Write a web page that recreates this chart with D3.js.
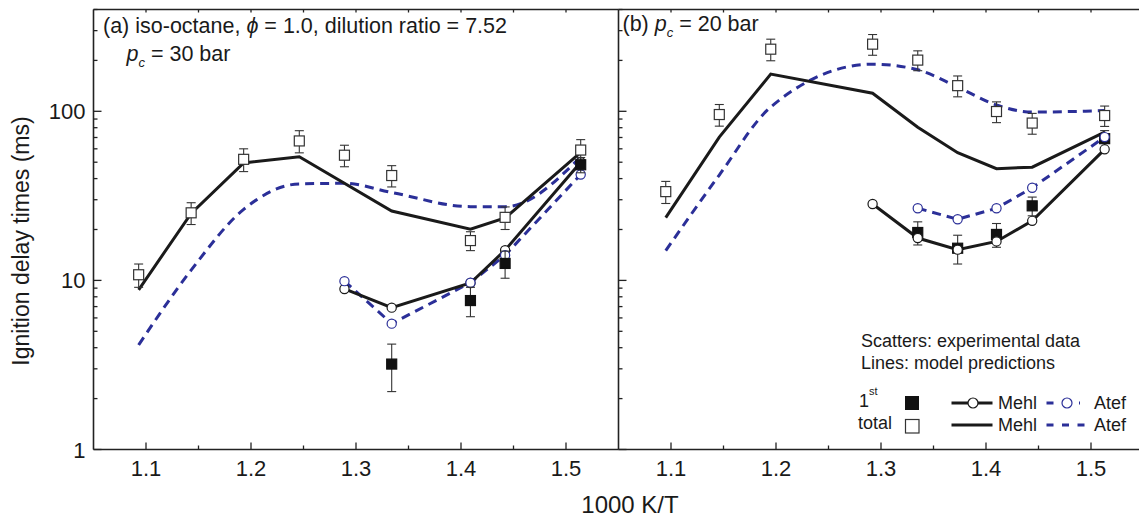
<!DOCTYPE html>
<html>
<head>
<meta charset="utf-8">
<script src="https://cdn.jsdelivr.net/npm/d3@7"></script>
<style>
    body { margin: 0; background: #fff; }
    svg { display: block; }
    text { font-family: Arial, "Liberation Sans", sans-serif; fill: #1a1a1a; }
</style>
</head>
<body>
<svg id="chart" width="1139" height="520"></svg>
<script>
// ---- data (1000 K/T, ignition delay in ms) ----
// panel (a), pc = 30 bar
const aTotalT    = [1.093, 1.143, 1.193, 1.246, 1.289, 1.334, 1.409, 1.442, 1.514];
const aTotalExp  = [10.8, 25.1, 52.0, 66.8, 55.0, 41.7, 17.2, 23.6, 59.0];
const aTotalErr  = [1.7, 3.7, 8, 10, 8, 6, 2.2, 3.6, 9];
const a1stT      = [1.334, 1.409, 1.442, 1.514];
const a1stExp    = [3.2, 7.6, 12.6, 48.3];
const a1stErr    = [1.0, 1.5, 2.3, 5];
const aMehlTotT  = [1.093, 1.143, 1.193, 1.246, 1.334, 1.409, 1.442, 1.514];
const aMehlTot   = [8.8, 24.9, 49.5, 53.8, 25.7, 20.1, 23.4, 57.1];
const aAtefTotT  = [1.093, 1.143, 1.193, 1.246, 1.289, 1.334, 1.409, 1.442, 1.514];
const aAtefTot   = [4.15, 11.5, 26.3, 37.2, 37.5, 33.1, 27.3, 27.3, 53.8];
const a1stModT   = [1.289, 1.334, 1.409, 1.442, 1.514];
const aMehl1st   = [8.9, 6.9, 9.65, 15.1, 50.0];
const aAtef1st   = [9.9, 5.55, 9.7, 14.1, 42.3];

// panel (b), pc = 20 bar
const bTotalT    = [1.095, 1.146, 1.195, 1.292, 1.335, 1.373, 1.410, 1.444, 1.513];
const bTotalExp  = [33.5, 95.7, 233, 249.5, 200.8, 141.8, 99.7, 85.2, 94.4];
const bTotalErr  = [5, 14, 34, 35, 27, 20, 14, 12, 13];
const b1stT      = [1.335, 1.373, 1.410, 1.444, 1.513];
const b1stExp    = [19.2, 15.5, 18.7, 27.6, 68.9];
const b1stErr    = [3, 3, 3, 3.5, 8];
const bMehlTotT  = [1.095, 1.146, 1.195, 1.292, 1.335, 1.373, 1.410, 1.444, 1.513];
const bMehlTot   = [23.5, 70.4, 166, 127.9, 80.6, 56.9, 45.8, 46.7, 75.3];
const bAtefTotT  = [1.095, 1.146, 1.195, 1.292, 1.335, 1.373, 1.410, 1.444, 1.513];
const bAtefTot   = [15.0, 42, 106, 190, 176, 139, 109, 99, 101];
const bMehl1stT  = [1.292, 1.335, 1.373, 1.410, 1.444, 1.513];
const bMehl1st   = [28.3, 17.8, 15.2, 17.0, 22.5, 59.6];
const bAtef1stT  = [1.335, 1.373, 1.410, 1.444, 1.513];
const bAtef1st   = [26.7, 23.0, 26.7, 35.3, 70.4];

const xTicks = [1.1, 1.2, 1.3, 1.4, 1.5];
const xMinorTicks = [1.15, 1.25, 1.35, 1.45];
const yTicks = [1, 10, 100];

// ---- layout ----
const blue = "#2b2f98";
const ink = "#1a1a1a";
const plotTop = 9.5, plotBottom = 449.5, panelW = 525;
const panelLeft = [93.5, 618.5];

const svg = d3.select("#chart");

const yScale = d3.scaleLog().domain([1, 400]).range([plotBottom, plotTop]);
const yMinor = [];
[1, 10, 100].forEach(dec => d3.range(2, 10).forEach(m => { if (m * dec <= 400) yMinor.push(m * dec); }));

const zip = (xs, ys, es) => xs.map((t, i) => ({ t, v: ys[i], e: es ? es[i] : 0 }));

const panels = [
    {
        left: panelLeft[0],
        total: zip(aTotalT, aTotalExp, aTotalErr),
        first: zip(a1stT, a1stExp, a1stErr),
        mehlTot: zip(aMehlTotT, aMehlTot),
        atefTot: zip(aAtefTotT, aAtefTot),
        mehl1st: zip(a1stModT, aMehl1st),
        atef1st: zip(a1stModT, aAtef1st),
        circlesOnTop: false,
        yLabels: true
    },
    {
        left: panelLeft[1],
        total: zip(bTotalT, bTotalExp, bTotalErr),
        first: zip(b1stT, b1stExp, b1stErr),
        mehlTot: zip(bMehlTotT, bMehlTot),
        atefTot: zip(bAtefTotT, bAtefTot),
        mehl1st: zip(bMehl1stT, bMehl1st),
        atef1st: zip(bAtef1stT, bAtef1st),
        circlesOnTop: true,
        yLabels: false
    }
];

const drawPanel = (p) => {
    const xScale = d3.scaleLinear().domain([1.05, 1.55]).range([p.left, p.left + panelW]);
    const g = svg.append("g");

    // frame
    const frame = g.append("g").attr("stroke", "#222").attr("stroke-width", 1.6);
    frame.append("line").attr("x1", p.left).attr("x2", p.left + panelW).attr("y1", plotTop).attr("y2", plotTop);
    frame.append("line").attr("x1", p.left).attr("x2", p.left + panelW).attr("y1", plotBottom).attr("y2", plotBottom);
    frame.append("line").attr("x1", p.left).attr("x2", p.left).attr("y1", plotTop).attr("y2", plotBottom);

    // x ticks, inward, bottom + top
    const ticks = g.append("g").attr("stroke", "#222").attr("stroke-width", 1.3);
    ticks.selectAll(".xmaj").data(xTicks).join("line").attr("class", "xmaj")
        .attr("x1", d => xScale(d)).attr("x2", d => xScale(d))
        .attr("y1", plotBottom).attr("y2", plotBottom - 7);
    ticks.selectAll(".xmin").data(xMinorTicks).join("line").attr("class", "xmin")
        .attr("x1", d => xScale(d)).attr("x2", d => xScale(d))
        .attr("y1", plotBottom).attr("y2", plotBottom - 4);
    ticks.selectAll(".xtop").data(xTicks.concat(xMinorTicks)).join("line").attr("class", "xtop")
        .attr("x1", d => xScale(d)).attr("x2", d => xScale(d))
        .attr("y1", plotTop).attr("y2", plotTop + 3);

    // y ticks, inward on the left edge of each panel
    ticks.selectAll(".ymaj").data(yTicks).join("line").attr("class", "ymaj")
        .attr("x1", p.left).attr("x2", p.left + 8)
        .attr("y1", d => yScale(d)).attr("y2", d => yScale(d));
    ticks.selectAll(".ymin").data(yMinor).join("line").attr("class", "ymin")
        .attr("x1", p.left).attr("x2", p.left + 4)
        .attr("y1", d => yScale(d)).attr("y2", d => yScale(d));

    g.selectAll(".xlab").data(xTicks).join("text").attr("class", "xlab")
        .attr("x", d => xScale(d)).attr("y", 476)
        .attr("text-anchor", "middle")
        .style("font-size", "22px")
        .text(d => d.toFixed(1));

    if (p.yLabels) {
        g.selectAll(".ylab").data(yTicks).join("text").attr("class", "ylab")
            .attr("x", p.left - 8).attr("y", d => yScale(d) + 8)
            .attr("text-anchor", "end")
            .style("font-size", "22px")
            .text(d => d);
    }

    // model lines
    const line = (curve) => d3.line().x(d => xScale(d.t)).y(d => yScale(d.v)).curve(curve);
    const lines = g.append("g").attr("fill", "none").attr("stroke-width", 3);
    lines.append("path").datum(p.atefTot)
        .attr("d", line(d3.curveMonotoneX))
        .attr("stroke", blue).attr("stroke-dasharray", "9,6");
    lines.append("path").datum(p.atef1st)
        .attr("d", line(d3.curveLinear))
        .attr("stroke", blue).attr("stroke-dasharray", "9,6");
    lines.append("path").datum(p.mehlTot)
        .attr("d", line(d3.curveLinear))
        .attr("stroke", ink);
    lines.append("path").datum(p.mehl1st)
        .attr("d", line(d3.curveLinear))
        .attr("stroke", ink);

    const drawCircles = () => {
        const c = g.append("g").attr("fill", "#fff").attr("stroke-width", 1.2);
        c.selectAll(".cm").data(p.mehl1st).join("circle").attr("class", "cm")
            .attr("cx", d => xScale(d.t)).attr("cy", d => yScale(d.v)).attr("r", 4.6)
            .attr("stroke", ink);
        c.selectAll(".ca").data(p.atef1st).join("circle").attr("class", "ca")
            .attr("cx", d => xScale(d.t)).attr("cy", d => yScale(d.v)).attr("r", 4.6)
            .attr("stroke", blue);
    };

    const drawExp = () => {
        const e = g.append("g");
        const all = p.total.map(d => ({ ...d, filled: false }))
            .concat(p.first.map(d => ({ ...d, filled: true })));
        const bars = e.append("g").attr("stroke", "#333").attr("stroke-width", 1.1);
        all.forEach(d => {
            const cx = xScale(d.t);
            const y1 = yScale(d.v + d.e), y2 = yScale(Math.max(d.v - d.e, 1.01));
            bars.append("line").attr("x1", cx).attr("x2", cx).attr("y1", y1).attr("y2", y2);
            bars.append("line").attr("x1", cx - 4.5).attr("x2", cx + 4.5).attr("y1", y1).attr("y2", y1);
            bars.append("line").attr("x1", cx - 4.5).attr("x2", cx + 4.5).attr("y1", y2).attr("y2", y2);
        });
        e.selectAll("rect").data(all).join("rect")
            .attr("x", d => xScale(d.t) - 5).attr("y", d => yScale(d.v) - 5)
            .attr("width", 10).attr("height", 10)
            .attr("fill", d => d.filled ? "#111" : "#fff")
            .attr("stroke", d => d.filled ? "#111" : "#333")
            .attr("stroke-width", 1.2);
    };

    if (p.circlesOnTop) { drawExp(); drawCircles(); }
    else { drawCircles(); drawExp(); }
};

panels.forEach(drawPanel);

// ---- panel titles ----
const tA = svg.append("text").attr("x", 103).attr("y", 33).style("font-size", "21.5px");
tA.append("tspan").text("(a) iso-octane, ");
tA.append("tspan").style("font-style", "italic").text("\u03d5");
tA.append("tspan").text(" = 1.0, dilution ratio = 7.52");

const pcLabel = (x, y, prefix, rest) => {
    const t = svg.append("text").attr("x", x).attr("y", y).style("font-size", "21.5px");
    if (prefix) t.append("tspan").text(prefix);
    t.append("tspan").style("font-style", "italic").text("p");
    t.append("tspan").style("font-style", "italic").style("font-size", "13px").attr("dy", 6).text("c");
    t.append("tspan").attr("dy", -6).text(rest);
    return t;
};
pcLabel(126.5, 61, "", " = 30 bar");
pcLabel(622.5, 31, "(b)\u00a0", " = 20 bar");

// ---- axis titles ----
svg.append("text")
    .attr("transform", "translate(29,241) rotate(-90)")
    .attr("text-anchor", "middle")
    .style("font-size", "23px")
    .text("Ignition delay times (ms)");

svg.append("text")
    .attr("x", 630).attr("y", 513)
    .attr("text-anchor", "middle")
    .style("font-size", "24px")
    .text("1000 K/T");

// ---- legend ----
const leg = svg.append("g").style("font-size", "18px");
leg.append("text").attr("x", 861).attr("y", 347).text("Scatters: experimental data");
leg.append("text").attr("x", 861).attr("y", 369).text("Lines: model predictions");

const firstLbl = leg.append("text").attr("x", 859).attr("y", 407);
firstLbl.append("tspan").text("1");
firstLbl.append("tspan").attr("dy", -12).style("font-size", "11px").text("st");
leg.append("text").attr("x", 858).attr("y", 429).text("total");

leg.append("rect").attr("x", 905).attr("y", 396).attr("width", 14).attr("height", 14)
    .attr("fill", "#111");
leg.append("rect").attr("x", 905.5).attr("y", 419.5).attr("width", 13.5).attr("height", 13.5)
    .attr("fill", "#fff").attr("stroke", "#333").attr("stroke-width", 1.2);

leg.append("line").attr("x1", 951.5).attr("x2", 992.5).attr("y1", 403).attr("y2", 403)
    .attr("stroke", ink).attr("stroke-width", 3);
leg.append("circle").attr("cx", 973).attr("cy", 403).attr("r", 5)
    .attr("fill", "#fff").attr("stroke", ink).attr("stroke-width", 1.2);
leg.append("text").attr("x", 998).attr("y", 409).text("Mehl");
leg.append("line").attr("x1", 951.5).attr("x2", 992.5).attr("y1", 425).attr("y2", 425)
    .attr("stroke", ink).attr("stroke-width", 3);
leg.append("text").attr("x", 998).attr("y", 431).text("Mehl");

leg.append("line").attr("x1", 1046.5).attr("x2", 1080).attr("y1", 403).attr("y2", 403)
    .attr("stroke", blue).attr("stroke-width", 3).attr("stroke-dasharray", "7,25.5,7");
leg.append("circle").attr("cx", 1067).attr("cy", 403).attr("r", 5)
    .attr("fill", "#fff").attr("stroke", blue).attr("stroke-width", 1.2);
leg.append("text").attr("x", 1094).attr("y", 409).text("Atef");
leg.append("line").attr("x1", 1046.5).attr("x2", 1085).attr("y1", 425).attr("y2", 425)
    .attr("stroke", blue).attr("stroke-width", 3).attr("stroke-dasharray", "7,8.5");
leg.append("text").attr("x", 1094).attr("y", 431).text("Atef");
</script>
</body>
</html>
